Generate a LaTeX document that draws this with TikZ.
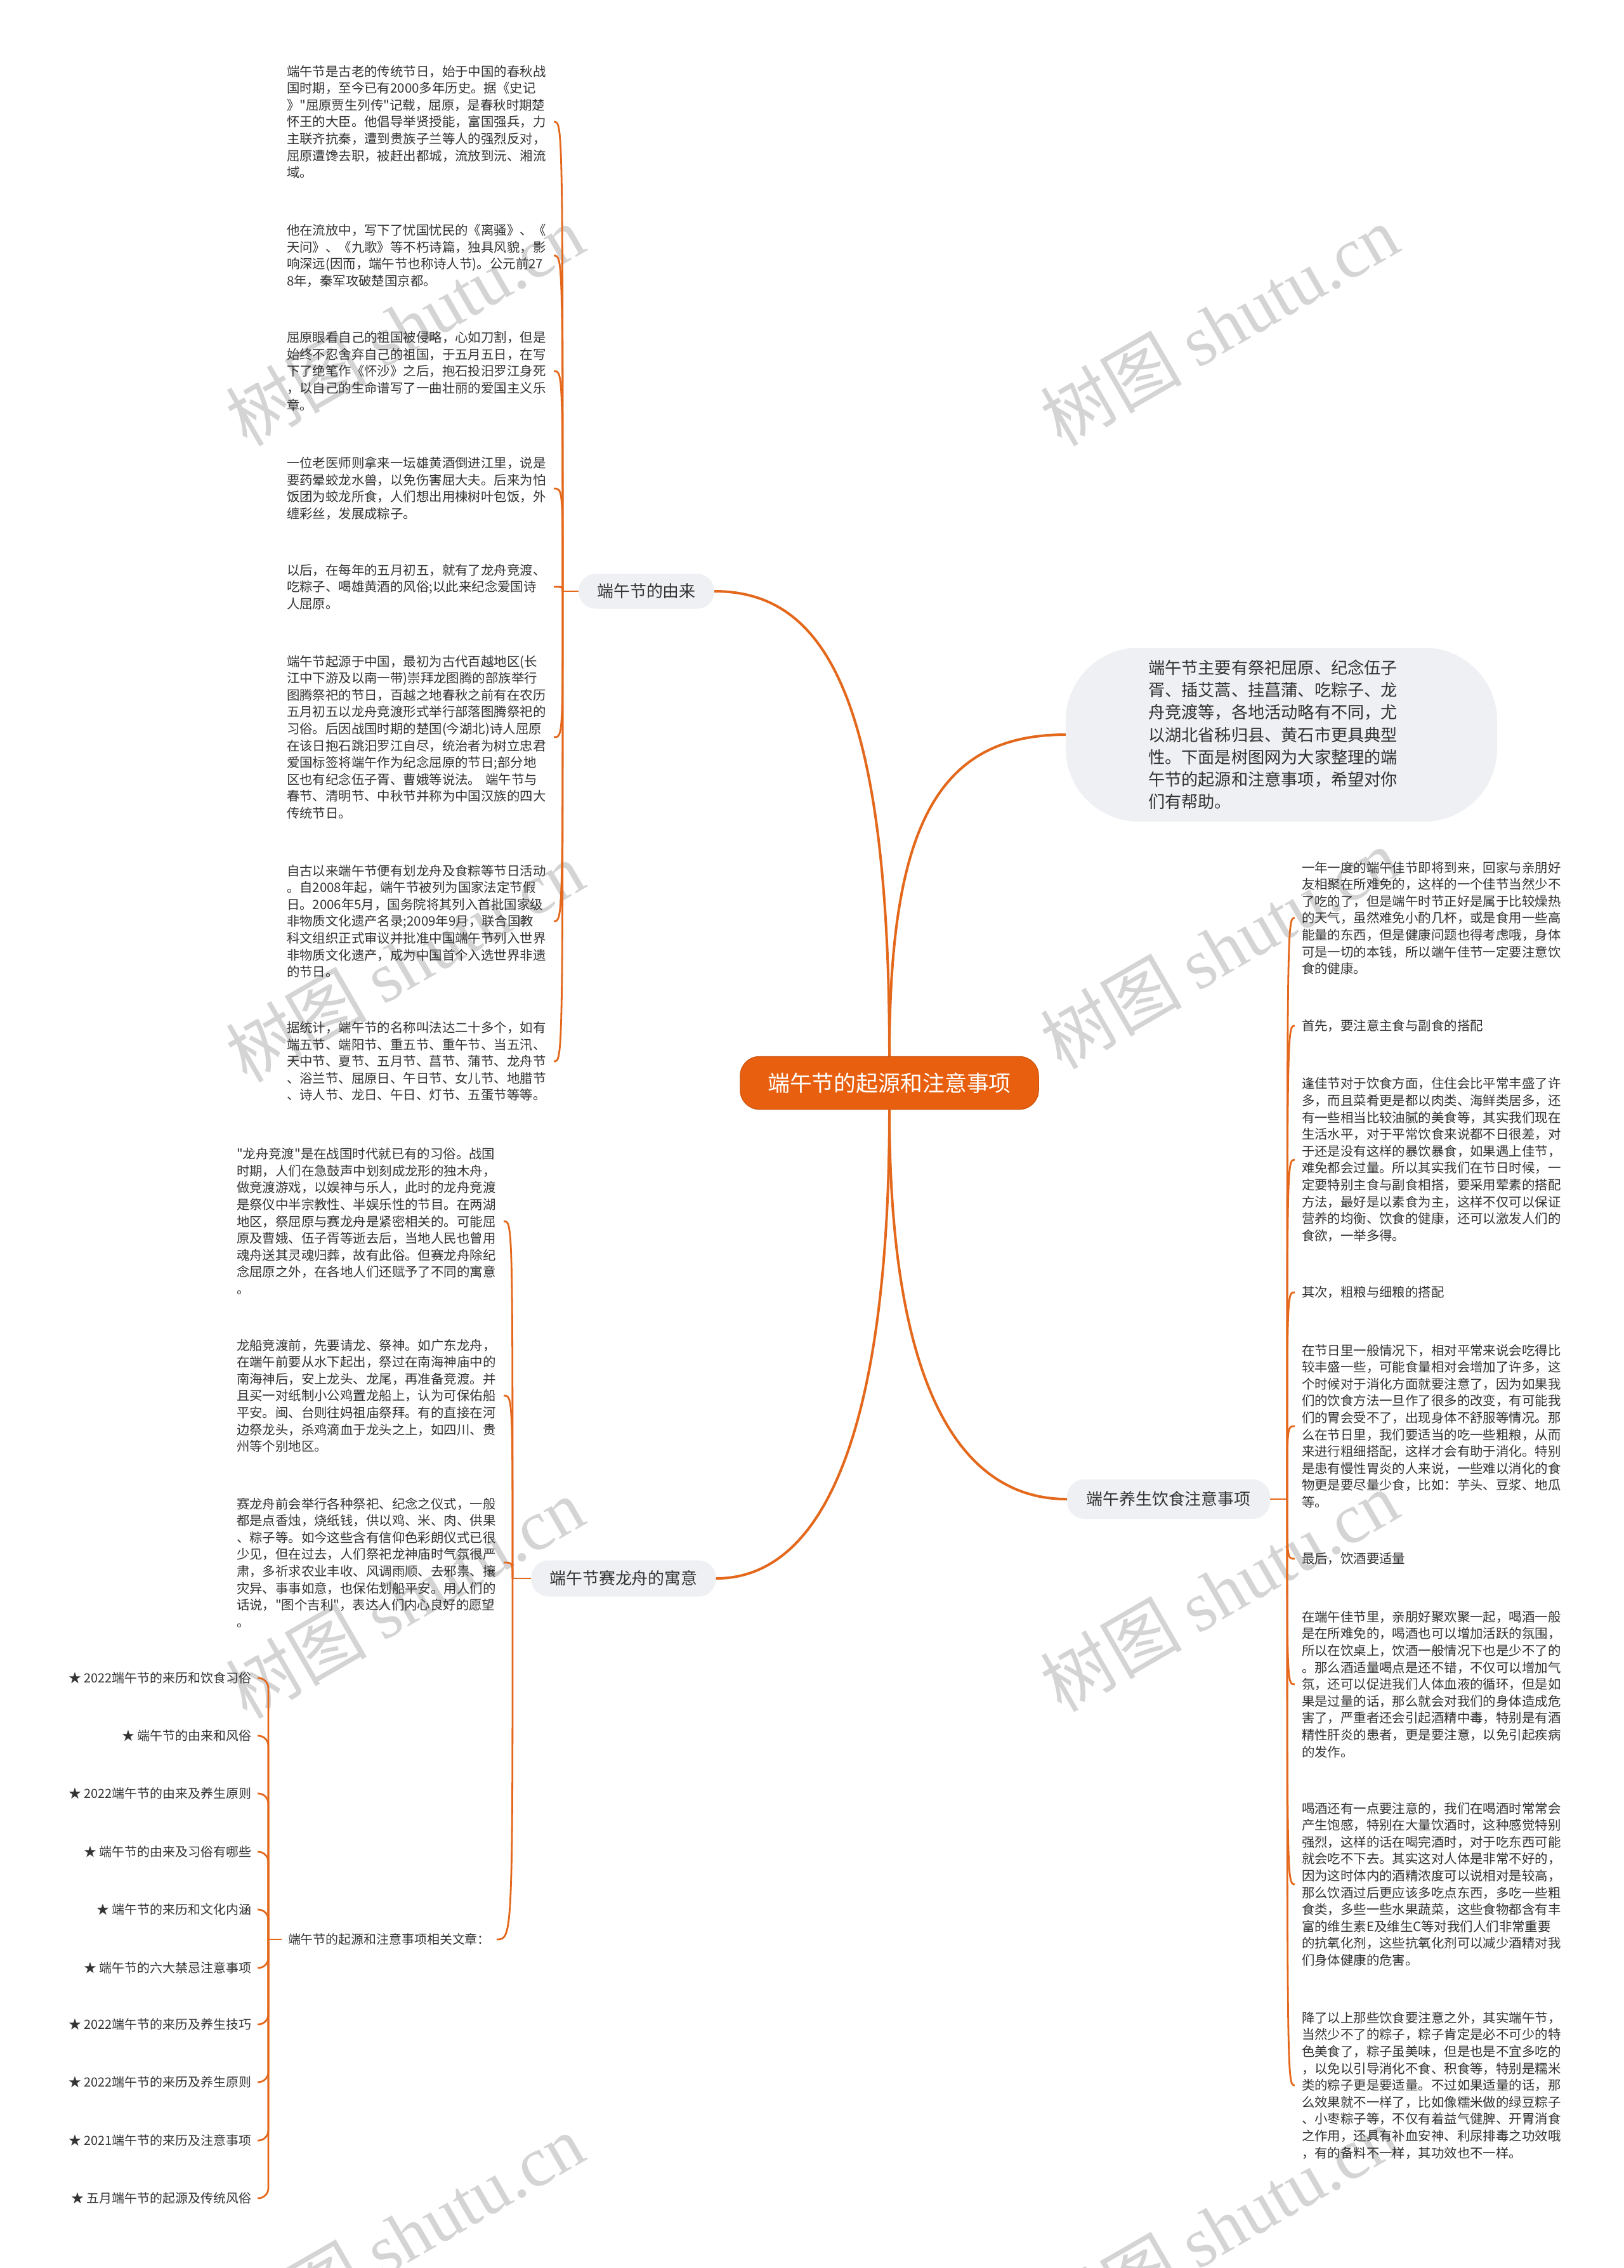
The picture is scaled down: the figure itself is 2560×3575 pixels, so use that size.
\documentclass[tikz,border=0pt]{standalone}
\usepackage{fontspec}
\setmainfont{Noto Sans CJK SC}
\newfontfamily\qtfont{Noto Sans CJK SC}
\newfontfamily\wmlat{Liberation Serif}
\newcommand\myquote{{\qtfont"}}
\usetikzlibrary{calc}
\definecolor{orangeC}{HTML}{E8600F}
\definecolor{lineC}{HTML}{E4681C}
\definecolor{txtC}{HTML}{333333}
\definecolor{boxC}{HTML}{EEF0F3}
\definecolor{wmC}{HTML}{D4D4D4}
\begin{document}
\begin{tikzpicture}[x=1bp,y=-1bp,
  para/.style={anchor=west, text width=410bp, align=left, inner sep=0pt, outer xsep=11bp, font=\fontsize{20.5}{26.7}\selectfont, text=txtC},
  item/.style={anchor=east, inner sep=0pt, outer xsep=10bp, font=\fontsize{20}{24}\selectfont, text=txtC},
  topic/.style={fill=boxC, rounded corners=27bp, inner sep=0pt, font=\fontsize{26}{30}\selectfont, text=txtC},
  mainline/.style={draw=lineC, line width=4bp},
  subline/.style={draw=lineC, line width=2.8bp},
  wm/.style={rotate=30, text=wmC, inner sep=0pt, font=\fontsize{112}{112}\selectfont}
]
\useasboundingbox[fill=white] (0,0) rectangle (2560,3575);

% watermarks
\node[wm] (w1) at (638,513) {树图 {\wmlat shutu.cn}};
\node[wm] (w2) at (1922,513) {树图 {\wmlat shutu.cn}};
\node[wm] (w3) at (638,1516) {树图 {\wmlat shutu.cn}};
\node[wm] (w4) at (1922,1495) {树图 {\wmlat shutu.cn}};
\node[wm] (w5) at (638,2519) {树图 {\wmlat shutu.cn}};
\node[wm] (w6) at (1922,2508) {树图 {\wmlat shutu.cn}};
\node[wm] (w7) at (638,3522) {树图 {\wmlat shutu.cn}};
\node[wm] (w8) at (1922,3510) {树图 {\wmlat shutu.cn}};

% central and topic nodes
\node[fill=orangeC, draw=orangeC!90!black, line width=1.5bp, rounded corners=30bp, minimum width=470bp, minimum height=83bp, inner sep=0pt, text=white, font=\fontsize{35}{40}\selectfont] (c) at (1402,1707) {端午节的起源和注意事项};
\node[topic, minimum width=214bp, minimum height=55bp] (yl) at (1019,932) {端午节的由来};
\node[topic, minimum width=291bp, minimum height=57bp] (ls) at (983,2488) {端午节赛龙舟的寓意};
\node[topic, minimum width=320bp, minimum height=62bp] (ys) at (1842,2363) {端午养生饮食注意事项};
\node[fill=boxC, rounded corners=115bp, minimum width=680bp, minimum height=274bp, inner sep=0pt, text width=420bp, align=left, text=txtC, font=\fontsize{26.3}{35.3}\selectfont] (bb) at (2020,1158) {端午节主要有祭祀屈原、纪念伍子\\胥、插艾蒿、挂菖蒲、吃粽子、龙\\舟竞渡等，各地活动略有不同，尤\\以湖北省秭归县、黄石市更具典型\\性。下面是树图网为大家整理的端\\午节的起源和注意事项，希望对你\\们有帮助。};

% left top children
\node[para] (a1) at (441,192) {端午节是古老的传统节日，始于中国的春秋战\\国时期，至今已有2000多年历史。据《史记\\》\myquote 屈原贾生列传\myquote 记载，屈原，是春秋时期楚\\怀王的大臣。他倡导举贤授能，富国强兵，力\\主联齐抗秦，遭到贵族子兰等人的强烈反对，\\屈原遭馋去职，被赶出都城，流放到沅、湘流\\域。};
\node[para] (a2) at (441,403) {他在流放中，写下了忧国忧民的《离骚》、《\\天问》、《九歌》等不朽诗篇，独具风貌，影\\响深远(因而，端午节也称诗人节)。公元前27\\8年，秦军攻破楚国京都。};
\node[para] (a3) at (441,585) {屈原眼看自己的祖国被侵略，心如刀割，但是\\始终不忍舍弃自己的祖国，于五月五日，在写\\下了绝笔作《怀沙》之后，抱石投汨罗江身死\\，以自己的生命谱写了一曲壮丽的爱国主义乐\\章。};
\node[para] (a4) at (441,770) {一位老医师则拿来一坛雄黄酒倒进江里，说是\\要药晕蛟龙水兽，以免伤害屈大夫。后来为怕\\饭团为蛟龙所食，人们想出用楝树叶包饭，外\\缠彩丝，发展成粽子。};
\node[para] (a5) at (441,925) {以后，在每年的五月初五，就有了龙舟竞渡、\\吃粽子、喝雄黄酒的风俗;以此来纪念爱国诗\\人屈原。};
\node[para] (a6) at (441,1162) {端午节起源于中国，最初为古代百越地区(长\\江中下游及以南一带)崇拜龙图腾的部族举行\\图腾祭祀的节日，百越之地春秋之前有在农历\\五月初五以龙舟竞渡形式举行部落图腾祭祀的\\习俗。后因战国时期的楚国(今湖北)诗人屈原\\在该日抱石跳汨罗江自尽，统治者为树立忠君\\爱国标签将端午作为纪念屈原的节日;部分地\\区也有纪念伍子胥、曹娥等说法。 端午节与\\春节、清明节、中秋节并称为中国汉族的四大\\传统节日。};
\node[para] (a7) at (441,1452) {自古以来端午节便有划龙舟及食粽等节日活动\\。自2008年起，端午节被列为国家法定节假\\日。2006年5月，国务院将其列入首批国家级\\非物质文化遗产名录;2009年9月，联合国教\\科文组织正式审议并批准中国端午节列入世界\\非物质文化遗产，成为中国首个入选世界非遗\\的节日。};
\node[para] (a8) at (441,1673) {据统计，端午节的名称叫法达二十多个，如有\\端五节、端阳节、重五节、重午节、当五汛、\\天中节、夏节、五月节、菖节、蒲节、龙舟节\\、浴兰节、屈原日、午日节、女儿节、地腊节\\、诗人节、龙日、午日、灯节、五蛋节等等。};

% left middle children
\node[para] (b1) at (362,1925) {\myquote 龙舟竞渡\myquote 是在战国时代就已有的习俗。战国\\时期，人们在急鼓声中划刻成龙形的独木舟，\\做竞渡游戏，以娱神与乐人，此时的龙舟竞渡\\是祭仪中半宗教性、半娱乐性的节目。在两湖\\地区，祭屈原与赛龙舟是紧密相关的。可能屈\\原及曹娥、伍子胥等逝去后，当地人民也曾用\\魂舟送其灵魂归葬，故有此俗。但赛龙舟除纪\\念屈原之外，在各地人们还赋予了不同的寓意\\。};
\node[para] (b2) at (362,2200) {龙船竞渡前，先要请龙、祭神。如广东龙舟，\\在端午前要从水下起出，祭过在南海神庙中的\\南海神后，安上龙头、龙尾，再准备竞渡。并\\且买一对纸制小公鸡置龙船上，认为可保佑船\\平安。闽、台则往妈祖庙祭拜。有的直接在河\\边祭龙头，杀鸡滴血于龙头之上，如四川、贵\\州等个别地区。};
\node[para] (b3) at (362,2463) {赛龙舟前会举行各种祭祀、纪念之仪式，一般\\都是点香烛，烧纸钱，供以鸡、米、肉、供果\\、粽子等。如今这些含有信仰色彩朗仪式已很\\少见，但在过去，人们祭祀龙神庙时气氛很严\\肃，多祈求农业丰收、风调雨顺、去邪祟、攘\\灾异、事事如意，也保佑划船平安。用人们的\\话说，\myquote 图个吉利\myquote ，表达人们内心良好的愿望\\。};
\node[anchor=west, inner sep=0pt, outer xsep=10bp, font=\fontsize{20}{24}\selectfont, text=txtC] (lst) at (444,3057) {端午节的起源和注意事项相关文章：};

% list items
\node[item] (i1) at (406,2645) {★ 2022端午节的来历和饮食习俗};
\node[item] (i2) at (406,2736) {★ 端午节的由来和风俗};
\node[item] (i3) at (406,2827) {★ 2022端午节的由来及养生原则};
\node[item] (i4) at (406,2919) {★ 端午节的由来及习俗有哪些};
\node[item] (i5) at (406,3010) {★ 端午节的来历和文化内涵};
\node[item] (i6) at (406,3102) {★ 端午节的六大禁忌注意事项};
\node[item] (i7) at (406,3191) {★ 2022端午节的来历及养生技巧};
\node[item] (i8) at (406,3282) {★ 2022端午节的来历及养生原则};
\node[item] (i9) at (406,3374) {★ 2021端午节的来历及注意事项};
\node[item] (i10) at (406,3465) {★ 五月端午节的起源及传统风俗};

% right children
\node[para] (r1) at (2041,1447) {一年一度的端午佳节即将到来，回家与亲朋好\\友相聚在所难免的，这样的一个佳节当然少不\\了吃的了，但是端午时节正好是属于比较燥热\\的天气，虽然难免小酌几杯，或是食用一些高\\能量的东西，但是健康问题也得考虑哦，身体\\可是一切的本钱，所以端午佳节一定要注意饮\\食的健康。};
\node[para] (r2) at (2041,1617) {首先，要注意主食与副食的搭配};
\node[para] (r3) at (2041,1828) {逢佳节对于饮食方面，住住会比平常丰盛了许\\多，而且菜肴更是都以肉类、海鲜类居多，还\\有一些相当比较油腻的美食等，其实我们现在\\生活水平，对于平常饮食来说都不日很差，对\\于还是没有这样的暴饮暴食，如果遇上佳节，\\难免都会过量。所以其实我们在节日时候，一\\定要特别主食与副食相搭，要采用荤素的搭配\\方法，最好是以素食为主，这样不仅可以保证\\营养的均衡、饮食的健康，还可以激发人们的\\食欲，一举多得。};
\node[para] (r4) at (2041,2037) {其次，粗粮与细粮的搭配};
\node[para] (r5) at (2041,2248) {在节日里一般情况下，相对平常来说会吃得比\\较丰盛一些，可能食量相对会增加了许多，这\\个时候对于消化方面就要注意了，因为如果我\\们的饮食方法一旦作了很多的改变，有可能我\\们的胃会受不了，出现身体不舒服等情况。那\\么在节日里，我们要适当的吃一些粗粮，从而\\来进行粗细搭配，这样才会有助于消化。特别\\是患有慢性胃炎的人来说，一些难以消化的食\\物更是要尽量少食，比如：芋头、豆浆、地瓜\\等。};
\node[para] (r6) at (2041,2457) {最后，饮酒要适量};
\node[para] (r7) at (2041,2655) {在端午佳节里，亲朋好聚欢聚一起，喝酒一般\\是在所难免的，喝酒也可以增加活跃的氛围，\\所以在饮桌上，饮酒一般情况下也是少不了的\\。那么酒适量喝点是还不错，不仅可以增加气\\氛，还可以促进我们人体血液的循环，但是如\\果是过量的话，那么就会对我们的身体造成危\\害了，严重者还会引起酒精中毒，特别是有酒\\精性肝炎的患者，更是要注意，以免引起疾病\\的发作。};
\node[para] (r8) at (2041,2970) {喝酒还有一点要注意的，我们在喝酒时常常会\\产生饱感，特别在大量饮酒时，这种感觉特别\\强烈，这样的话在喝完酒时，对于吃东西可能\\就会吃不下去。其实这对人体是非常不好的，\\因为这时体内的酒精浓度可以说相对是较高，\\那么饮酒过后更应该多吃点东西，多吃一些粗\\食类，多些一些水果蔬菜，这些食物都含有丰\\富的维生素E及维生C等对我们人们非常重要\\的抗氧化剂，这些抗氧化剂可以减少酒精对我\\们身体健康的危害。};
\node[para] (r9) at (2041,3287) {降了以上那些饮食要注意之外，其实端午节，\\当然少不了的粽子，粽子肯定是必不可少的特\\色美食了，粽子虽美味，但是也是不宜多吃的\\，以免以引导消化不食、积食等，特别是糯米\\类的粽子更是要适量。不过如果适量的话，那\\么效果就不一样了，比如像糯米做的绿豆粽子\\、小枣粽子等，不仅有着益气健脾、开胃消食\\之作用，还具有补血安神、利尿排毒之功效哦\\，有的备料不一样，其功效也不一样。};

% main connectors
\draw[mainline] (c.north) .. controls ($(c.north)+(0,-566)$) and ($(yl.east)+(174,0)$) .. (yl.east);
\draw[mainline] (c.north) .. controls ($(c.north)+(0,-366)$) and ($(bb.west)+(-200,0)$) .. (bb.west);
\draw[mainline] (c.south) .. controls ($(c.south)+(0,500)$) and ($(ls.east)+(172,0)$) .. (ls.east);
\draw[mainline] (c.south) .. controls ($(c.south)+(0,450)$) and ($(ys.west)+(-162,0)$) .. (ys.west);

% sub connectors: left top
\coordinate (uj) at (887,932);
\draw[subline] (yl.west) -- (uj);
\foreach \n in {a1,a2,a3,a4,a5,a6,a7,a8}
  \draw[subline] (uj) .. controls (uj |- \n.east) .. (\n.east);

% left middle
\coordinate (mj) at (808,2488);
\draw[subline] (ls.west) -- (mj);
\foreach \n in {b1,b2,b3,lst}
  \draw[subline] (mj) .. controls (mj |- \n.east) .. (\n.east);

% list
\coordinate (lj) at (423,3057);
\draw[subline] (lst.west) -- (lj);
\foreach \n in {i1,i2,i3,i4,i5,i6,i7,i8,i9,i10}
  \draw[subline, rounded corners=16bp] (lj) |- (\n.east);

% right
\coordinate (rj) at (2029,2363);
\draw[subline] (ys.east) -- (rj);
\foreach \n in {r1,r2,r3,r4,r5,r6,r7,r8,r9}
  \draw[subline] (rj) .. controls (rj |- \n.west) .. (\n.west);
\end{tikzpicture}
\end{document}
